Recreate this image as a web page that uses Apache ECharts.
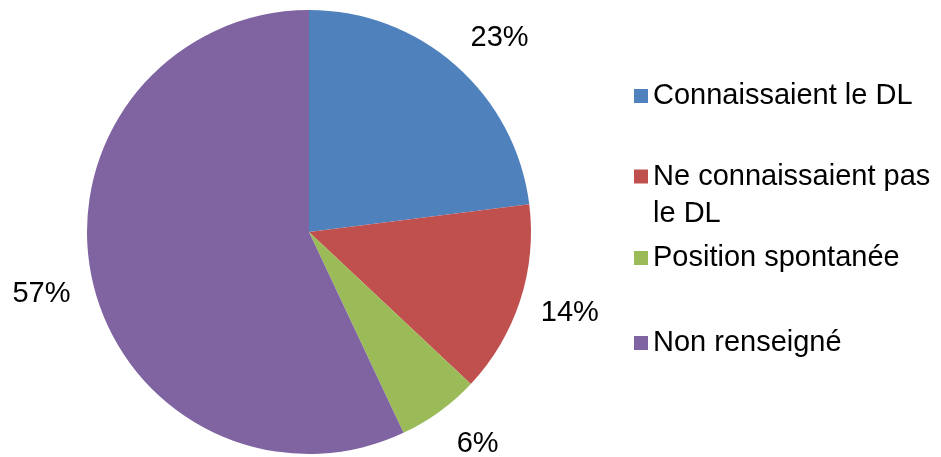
<!DOCTYPE html>
<html>
<head>
<meta charset="utf-8">
<script src="https://cdn.jsdelivr.net/npm/echarts@6/dist/echarts.min.js"></script>
<style>
    html, body { margin: 0; padding: 0; background: #fff; }
    #chart { width: 941px; height: 457px; }
</style>
</head>
<body>
<div id="chart"></div>
<script>
    // données (%)
    var categories = ['Connaissaient le DL', 'Ne connaissaient pas le DL', 'Position spontanée', 'Non renseigné'];
    var values = [23, 14, 6, 57];
    var colors = ['#4F81BD', '#C0504D', '#9BBB59', '#8064A2'];
    // texte affiché dans la légende (retour à la ligne comme dans l'original)
    var legendText = ['Connaissaient le DL', '\nNe connaissaient pas\nle DL', 'Position spontanée', 'Non renseigné'];

    var font = '"Liberation Sans", Arial, sans-serif';
    var legendTops = [79, 121, 241, 326];
    var legendLineHeights = [34, 37, 34, 34];
    // petits décalages des étiquettes (placement façon Excel)
    var labelShift = [[12, 9], [4, -2], [10, -6], [-4, 3]];

    var myChart = echarts.init(document.getElementById('chart'));

    var legends = categories.map(function (name, i) {
        return {
            orient: 'vertical',
            left: 634,
            top: legendTops[i],
            padding: 0,
            itemWidth: 14,
            itemHeight: 14,
            icon: 'rect',
            selectedMode: false,
            data: [name],
            formatter: function () { return legendText[i]; },
            textStyle: {
                fontFamily: font,
                fontSize: 29,
                color: '#000',
                lineHeight: legendLineHeights[i]
            }
        };
    });

    var option = {
        animation: false,
        color: colors,
        legend: legends,
        series: [
            {
                type: 'pie',
                center: [309, 232],
                radius: 222,
                startAngle: 90,
                clockwise: true,
                avoidLabelOverlap: false,
                itemStyle: { borderWidth: 0 },
                label: {
                    show: true,
                    position: 'outside',
                    formatter: '{c}%',
                    fontFamily: font,
                    fontSize: 29,
                    color: '#000',
                    distanceToLabelLine: 0
                },
                labelLine: { show: false, length: 48, length2: 0 },
                labelLayout: function (params) {
                    var s = labelShift[params.dataIndex];
                    return { align: 'center', dx: s[0], dy: s[1] };
                },
                emphasis: { disabled: true },
                data: categories.map(function (name, i) {
                    return { name: name, value: values[i] };
                })
            }
        ]
    };

    myChart.setOption(option);
</script>
</body>
</html>
